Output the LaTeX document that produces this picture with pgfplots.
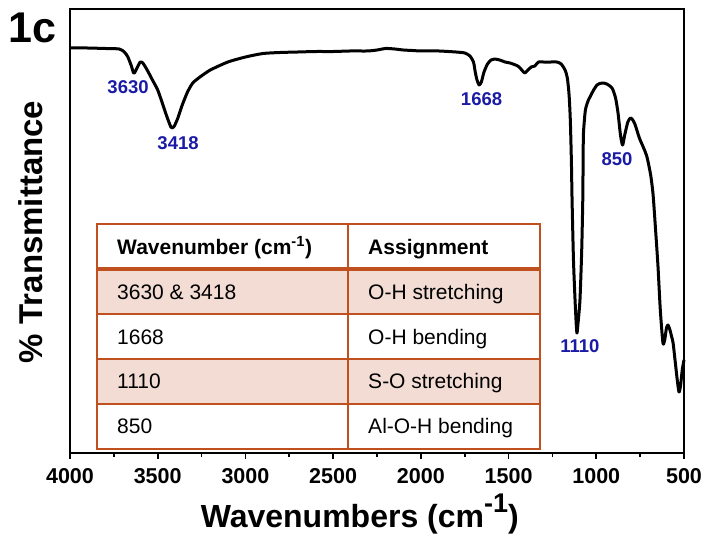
\documentclass[border=0pt]{standalone}
\usepackage{fontspec}
\setmainfont{Liberation Sans}
\usepackage{pgfplots}
\pgfplotsset{compat=1.18}

\definecolor{peakblue}{RGB}{26,26,166}
\definecolor{tabline}{RGB}{192,80,30}
\definecolor{tabfill}{RGB}{242,220,212}

% FTIR spectrum: wavenumber (cm^-1) vs. transmittance (%)
\pgfplotstableread{
w T
4000 91.27
3900 91.27
3800 91.16
3720 91.05
3690 90.37
3670 89.24
3650 87.21
3640 85.86
3633 85.64
3615 87.00
3600 88.11
3585 87.89
3560 86.31
3530 84.06
3500 81.80
3470 78.42
3445 75.49
3425 73.46
3418 73.23
3405 73.69
3385 75.49
3360 78.42
3330 81.35
3300 83.38
3259 84.73
3200 86.31
3100 88.11
3000 89.24
2900 90.03
2800 90.26
2700 90.37
2600 90.48
2500 90.48
2400 90.60
2300 90.60
2250 90.82
2200 91.16
2150 91.05
2100 90.82
2050 90.71
2000 90.60
1900 90.60
1800 90.37
1750 90.15
1720 89.47
1700 88.11
1690 85.86
1680 84.06
1668 82.93
1655 83.61
1640 85.86
1620 87.66
1600 88.56
1580 88.79
1550 88.56
1520 88.11
1492 87.89
1460 87.44
1440 87.00
1420 86.09
1406 85.64
1390 86.31
1370 87.00
1350 87.21
1330 88.11
1300 88.11
1260 88.11
1224 88.11
1200 87.66
1178 86.31
1165 84.51
1155 80.67
1148 75.04
1142 66.01
1138 56.99
1130 43.45
1121 34.43
1114 28.79
1110 26.98
1105 28.79
1093 34.43
1083 45.71
1077 56.99
1075 66.01
1073 72.09
1062 77.28
1045 79.53
1036 80.22
1015 81.80
996 82.93
980 83.27
962 83.38
940 83.15
910 82.25
890 79.99
876 76.60
862 71.64
850 69.39
838 71.64
820 74.59
805 75.49
796 75.27
780 74.14
760 71.64
750 70.53
730 68.72
711 66.69
690 62.63
676 58.12
660 49.10
648 41.88
635 32.18
620 24.74
610 25.42
600 28.12
591 28.79
580 27.67
570 26.09
562 24.74
548 19.78
535 15.27
528 13.69
520 15.00
510 18.65
500 20.91
}\spectrum

\begin{document}
\begin{tikzpicture}
\begin{axis}[
  name=ir,
  scale only axis, width=614pt, height=443.4pt,
  x dir=reverse, xmin=500, xmax=4000, ymin=0, ymax=100,
  xtick={500,1000,...,4000}, minor x tick num=1,
  ytick=\empty, xtick pos=left, tick align=outside,
  major tick length=6pt, minor tick length=4pt,
  every tick/.style={black, line width=1.6pt},
  axis line style={line width=1.8pt},
  /pgf/number format/1000 sep={},
  /pgf/number format/assume math mode=true,
  xticklabel style={font=\fontsize{21.5}{21.5}\selectfont\bfseries, yshift=-6pt},
  clip=false,
]
% assignment table
\fill[tabfill] (axis cs:3846,41.43) rectangle (axis cs:1321,31.28);
\fill[tabfill] (axis cs:3846,21.13) rectangle (axis cs:1321,10.98);
\begin{scope}[tabline, line width=1.8pt]
  \draw (axis cs:3846,51.58) rectangle (axis cs:1321,0.83);
  \draw (axis cs:2415,51.58) -- (axis cs:2415,0.83);
  \draw (axis cs:3846,31.28) -- (axis cs:1321,31.28);
  \draw (axis cs:3846,21.13) -- (axis cs:1321,21.13);
  \draw (axis cs:3846,10.98) -- (axis cs:1321,10.98);
  \draw[line width=3.6pt] (axis cs:3846,41.43) -- (axis cs:1321,41.43);
\end{scope}
\begin{scope}[every node/.style={anchor=base west, inner sep=0pt, font=\fontsize{21}{21}\selectfont}]
  \node[font=\fontsize{21}{21}\selectfont\bfseries] at (axis cs:3732,44.81) {Wavenumber (cm\textsuperscript{-1})};
  \node[font=\fontsize{21}{21}\selectfont\bfseries] at (axis cs:2301,44.81) {Assignment};
  \node at (axis cs:3732,34.66) {3630 \& 3418};
  \node at (axis cs:2301,34.66) {O-H stretching};
  \node at (axis cs:3732,24.51) {1668};
  \node at (axis cs:2301,24.51) {O-H bending};
  \node at (axis cs:3732,14.37) {1110};
  \node at (axis cs:2301,14.37) {S-O stretching};
  \node at (axis cs:3732,4.22) {850};
  \node at (axis cs:2301,4.22) {Al-O-H bending};
\end{scope}

\addplot[black, line width=3pt, line join=round, smooth, tension=0.4] table[x=w, y=T] {\spectrum};

% peak positions
\begin{scope}[every node/.style={text=peakblue, font=\fontsize{18.5}{18.5}\selectfont\bfseries}]
  \node at (axis cs:3669,82.48) {3630};
  \node at (axis cs:3384,69.85) {3418};
  \node at (axis cs:1654,79.77) {1668};
  \node at (axis cs:1093,24.06) {1110};
  \node at (axis cs:882,66.24) {850};
\end{scope}

\node[anchor=base west, inner sep=0pt, font=\fontsize{43}{43}\selectfont\bfseries] at (axis description cs:-0.101,0.924) {1c};
\node[anchor=base, inner sep=0pt, font=\fontsize{32}{32}\selectfont\bfseries] at (axis description cs:0.472,-0.1698) {Wavenumbers (cm\raisebox{15pt}{\fontsize{27}{27}\selectfont -1})};
\node[rotate=90, anchor=base, inner sep=0pt, font=\fontsize{33}{33}\selectfont\bfseries] at (axis description cs:-0.044,0.498) {\% Transmittance};
\end{axis}
\pgfresetboundingbox
\path[use as bounding box] ([xshift=-70pt,yshift=-84.3pt]ir.south west) rectangle ([xshift=20pt,yshift=9.3pt]ir.north east);
\end{tikzpicture}
\end{document}
